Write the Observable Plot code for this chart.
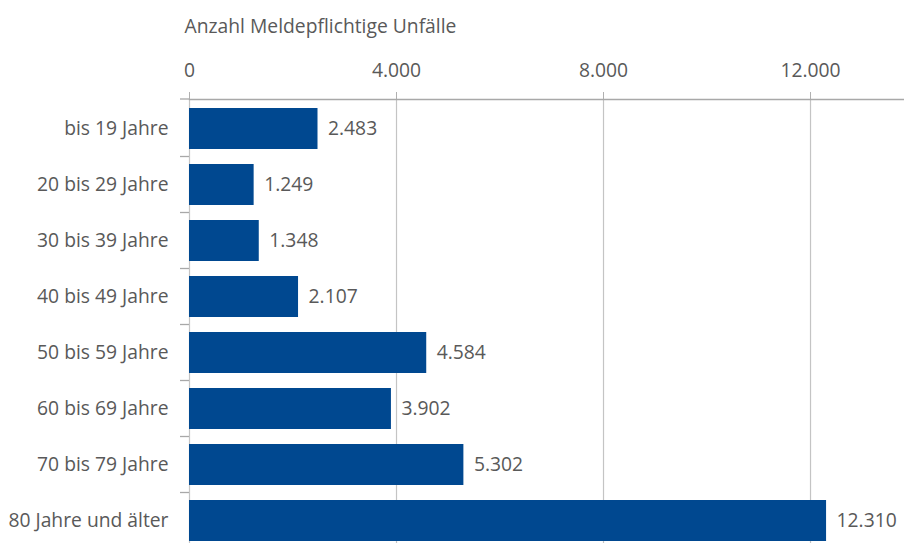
<!DOCTYPE html>
<html>
<head>
<meta charset="utf-8">
<script src="https://cdn.jsdelivr.net/npm/d3@7"></script>
<script src="https://cdn.jsdelivr.net/npm/@observablehq/plot@0.6"></script>
<style>
  html, body { margin: 0; padding: 0; background: #fff; }
</style>
</head>
<body>
<div id="chart"></div>
<script>
const categories = ["bis 19 Jahre", "20 bis 29 Jahre", "30 bis 39 Jahre", "40 bis 49 Jahre", "50 bis 59 Jahre", "60 bis 69 Jahre", "70 bis 79 Jahre", "80 Jahre und älter"];
const values = [2483, 1249, 1348, 2107, 4584, 3902, 5302, 12310];
const xTicks = [0, 4000, 8000, 12000];
const axisTitle = "Anzahl Meldepflichtige Unfälle";

const data = categories.map((c, i) => ({cat: c, value: values[i]}));
const de = d3.formatLocale({decimal: ",", thousands: ".", grouping: [3], currency: ["", " €"]});
const fmt = de.format(",d");

const textColor = "#595959";
const fs = 19.3;
const plot = Plot.plot({
  width: 904,
  height: 543,
  marginTop: 99,
  marginLeft: 189,
  marginRight: 0,
  marginBottom: 0,
  style: {fontFamily: "'Open Sans', sans-serif", fontSize: fs + "px", color: textColor, background: "#fff"},
  x: {domain: [0, 13816], axis: null},
  y: {domain: categories, range: [100, 549.6], paddingInner: 0.27, paddingOuter: 0.135, align: 0.5, axis: null},
  marks: [
    Plot.ruleX(xTicks, {stroke: "#c4c4c4", strokeOpacity: 1, strokeWidth: 1.2}),
    Plot.barX(data, {x: "value", y: "cat", fill: "#004890"}),
    Plot.text(data, {x: "value", y: "cat", text: d => fmt(d.value), textAnchor: "start", dx: 10, fill: textColor, fontSize: fs}),
    Plot.axisX({anchor: "top", ticks: xTicks, tickFormat: fmt, tickSize: 8, tickPadding: 15, stroke: "#b0b0b0", fill: textColor, label: null, fontSize: fs}),
    Plot.axisY({anchor: "left", tickSize: 0, tickPadding: 21, label: null, fill: textColor, fontSize: fs}),
    Plot.frame({anchor: "top", stroke: "#a8a8a8", strokeWidth: 1.3}),
    Plot.text([axisTitle], {frameAnchor: "top-left", dx: -5, dy: -67, lineAnchor: "bottom", textAnchor: "start", fill: textColor, fontSize: fs})
  ]
});

// band-boundary ticks on the y axis
const ys = plot.scale("y");
const xs = plot.scale("x");
const half = (ys.step - ys.bandwidth) / 2;
const bounds = [99].concat(categories.slice(1).map(c => ys.apply(c) - half));
const x0 = xs.apply(0);
d3.select(plot).append("g")
  .attr("stroke", "#a8a8a8")
  .attr("stroke-width", 1.3)
  .selectAll("line")
  .data(bounds)
  .join("line")
  .attr("x1", x0 - 9).attr("x2", x0)
  .attr("y1", d => d).attr("y2", d => d);

document.getElementById("chart").append(plot);
</script>
</body>
</html>
